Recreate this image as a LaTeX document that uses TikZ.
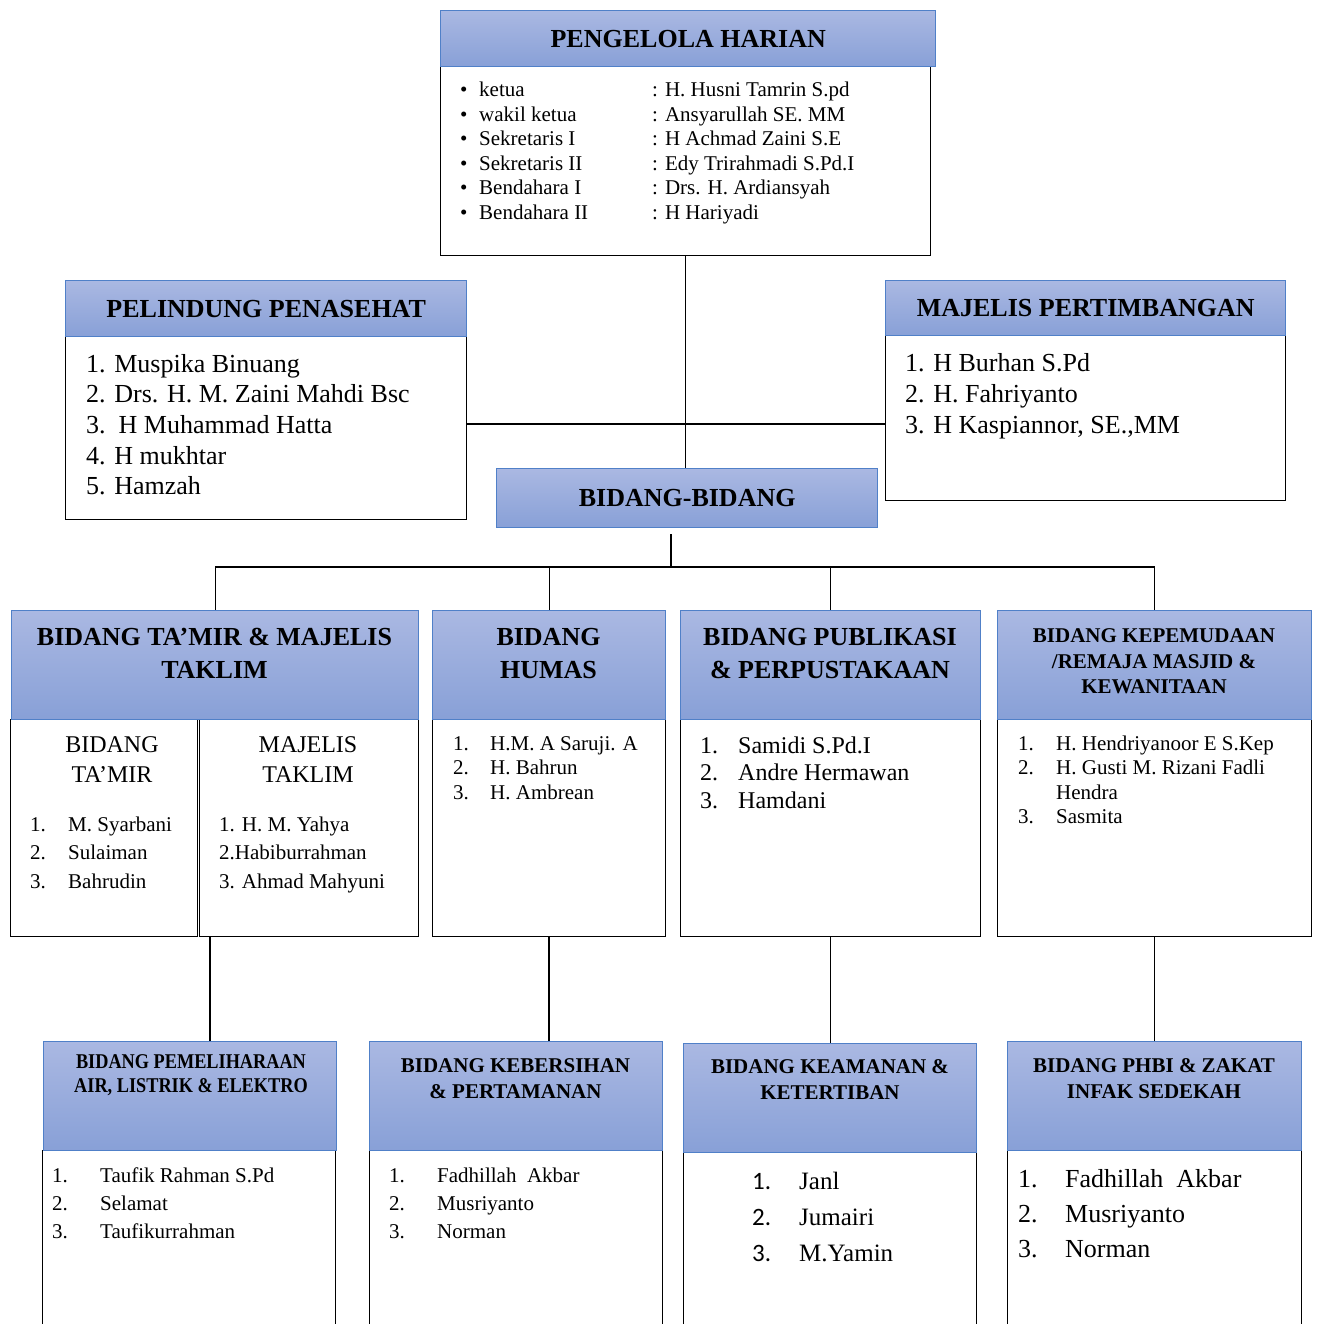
\documentclass[tikz,border=0pt]{standalone}
\usepackage{fontspec}
\setmainfont{Liberation Serif}
\newfontfamily\calibrifont{Carlito}
\definecolor{HeadTop}{RGB}{170, 184, 226}
\definecolor{HeadBottom}{RGB}{136, 160, 215}
\definecolor{HeadLine}{RGB}{80, 128, 200}
\tikzset{
  kepala/.style={draw=HeadLine, line width=1.4pt, top color=HeadTop, bottom color=HeadBottom,
    inner sep=0pt, anchor=north west, font=\fontsize{26}{33}\selectfont\bfseries},
  isi/.style={draw=black, line width=1.2pt, fill=white, inner sep=0pt, anchor=north west},
  judul/.style={inner sep=0pt, align=center, font=\fontsize{26}{33}\selectfont\bfseries},
  garis/.style={line width=1.3pt},
  t21/.style={inner sep=0pt, anchor=base west, font=\fontsize{21}{24}\selectfont},
  t24/.style={inner sep=0pt, anchor=base west, font=\fontsize{24}{30}\selectfont},
  t26/.style={inner sep=0pt, anchor=base west, font=\fontsize{26}{31}\selectfont}
}
\begin{document}
\begin{tikzpicture}[x=1pt, y=-1pt]
    \useasboundingbox (0,0) rectangle (1316,1324);
    \clip (0,0) rectangle (1316,1324);

    % Pengelola harian
    \node[isi, minimum width=490, minimum height=189] (ph-isi) at (440,66) {};
    \node[kepala, minimum width=495, minimum height=56] (ph-k) at (440,10) {PENGELOLA HARIAN};
    \foreach \jab/\nama [count=\i from 0] in {ketua/H. Husni Tamrin S.pd, wakil ketua/Ansyarullah SE. MM,
        Sekretaris I/H Achmad Zaini S.E, Sekretaris II/Edy Trirahmadi S.Pd.I,
        Bendahara I/Drs. H. Ardiansyah, Bendahara II/H Hariyadi} {
      \node[t21] (ph-b\i) at (460, {97+24.5*\i}) {\textbullet};
      \node[t21] (ph-j\i) at (479, {97+24.5*\i}) {\jab};
      \node[t21] (ph-n\i) at (652, {97+24.5*\i}) {: \nama};
    }

    % Pelindung penasehat
    \node[isi, minimum width=401, minimum height=183] (pp-isi) at (65,336) {};
    \node[kepala, minimum width=401, minimum height=56] (pp-k) at (65,280) {PELINDUNG PENASEHAT};
    \foreach \t [count=\i from 0] in {1. Muspika Binuang, 2. Drs. H. M. Zaini Mahdi Bsc,
        3.\ \ H Muhammad Hatta, 4. H mukhtar, 5. Hamzah}
      \node[t26] (pp-\i) at (86, {372+30.7*\i}) {\t};

    % Majelis pertimbangan
    \node[isi, minimum width=400, minimum height=165] (mp-isi) at (885,335) {};
    \node[kepala, minimum width=400, minimum height=55] (mp-k) at (885,280) {MAJELIS PERTIMBANGAN};
    \foreach \t [count=\i from 0] in {1. H Burhan S.Pd, 2. H. Fahriyanto, {3. H Kaspiannor, SE.,MM}}
      \node[t26] (mp-\i) at (905, {371+31*\i}) {\t};

    % Bidang-bidang
    \node[kepala, minimum width=381, minimum height=59] (bb) at (496,468) {BIDANG-BIDANG};

    % Bidang ta'mir & majelis taklim
    \node[isi, minimum width=187, minimum height=217] (tamir-isi) at (10,719) {};
    \node[isi, minimum width=219, minimum height=217] (taklim-isi) at (199,719) {};
    \node[kepala, minimum width=407, minimum height=109] (tamir-k) at (11,610) {};
    \node[judul] (tamir-j) at (214.5,653.5) {BIDANG TA'MIR \& MAJELIS\\TAKLIM};
    \node[inner sep=0pt, align=center, font=\fontsize{24}{30}\selectfont] (tamir-sub) at (112,760) {BIDANG\\TA'MIR};
    \node[inner sep=0pt, align=center, font=\fontsize{24}{30}\selectfont] (taklim-sub) at (308,760) {MAJELIS\\TAKLIM};
    \foreach \n/\t [count=\i from 0] in {1./M. Syarbani, 2./Sulaiman, 3./Bahrudin} {
      \node[t21] (tamir-n\i) at (30, {831+28.5*\i}) {\n};
      \node[t21] (tamir-t\i) at (68, {831+28.5*\i}) {\t};
    }
    \foreach \t [count=\i from 0] in {1. H. M. Yahya, 2.Habiburrahman, 3. Ahmad Mahyuni}
      \node[t21] (taklim-t\i) at (219, {831+28.5*\i}) {\t};

    % Bidang humas
    \node[isi, minimum width=233, minimum height=217] (humas-isi) at (432,719) {};
    \node[kepala, minimum width=233, minimum height=109] (humas-k) at (432,610) {};
    \node[judul] (humas-j) at (548.5,653.5) {BIDANG\\HUMAS};
    \foreach \n/\t [count=\i from 0] in {1./H.M. A Saruji. A, 2./H. Bahrun, 3./H. Ambrean} {
      \node[t21] (humas-n\i) at (453, {750+24.5*\i}) {\n};
      \node[t21] (humas-t\i) at (490, {750+24.5*\i}) {\t};
    }

    % Bidang publikasi
    \node[isi, minimum width=300, minimum height=217] (pub-isi) at (680,719) {};
    \node[kepala, minimum width=300, minimum height=109] (pub-k) at (680,610) {};
    \node[judul] (pub-j) at (830,653.5) {BIDANG PUBLIKASI\\\& PERPUSTAKAAN};
    \foreach \n/\t [count=\i from 0] in {1./Samidi S.Pd.I, 2./Andre Hermawan, 3./Hamdani} {
      \node[t24] (pub-n\i) at (700, {753+27.5*\i}) {\n};
      \node[t24] (pub-t\i) at (738, {753+27.5*\i}) {\t};
    }

    % Bidang kepemudaan
    \node[isi, minimum width=314, minimum height=217] (pk-isi) at (997,719) {};
    \node[kepala, minimum width=314, minimum height=109] (pk-k) at (997,610) {};
    \node[judul, font=\fontsize{21}{25.5}\selectfont\bfseries] (pk-j) at (1154,661.5)
      {BIDANG KEPEMUDAAN\\/REMAJA MASJID \&\\KEWANITAAN};
    \foreach \n/\t [count=\i from 0] in {1./H. Hendriyanoor E S.Kep, 2./H. Gusti M. Rizani Fadli, /Hendra, 3./Sasmita} {
      \node[t21] (pk-n\i) at (1018, {750+24.5*\i}) {\n};
      \node[t21] (pk-t\i) at (1056, {750+24.5*\i}) {\t};
    }

    % Bidang pemeliharaan
    \node[isi, minimum width=293, minimum height=200] (pelihara-isi) at (42,1150) {};
    \node[kepala, minimum width=293, minimum height=109] (pelihara-k) at (43,1041) {};
    \node[judul, font=\fontsize{21}{24}\selectfont\bfseries\addfontfeature{FakeStretch=0.87}] (pelihara-j)
      at (191,1075) {BIDANG PEMELIHARAAN\\AIR, LISTRIK \& ELEKTRO};
    \foreach \n/\t [count=\i from 0] in {1./Taufik Rahman S.Pd, 2./Selamat, 3./Taufikurrahman} {
      \node[t21] (pelihara-n\i) at (52, {1182+28*\i}) {\n};
      \node[t21] (pelihara-t\i) at (100, {1182+28*\i}) {\t};
    }

    % Bidang kebersihan
    \node[isi, minimum width=293, minimum height=200] (bersih-isi) at (369,1150) {};
    \node[kepala, minimum width=293, minimum height=109] (bersih-k) at (369,1041) {};
    \node[judul, font=\fontsize{21}{26}\selectfont\bfseries] (bersih-j) at (515.5,1079)
      {BIDANG KEBERSIHAN\\\& PERTAMANAN};
    \foreach \n/\t [count=\i from 0] in {1./Fadhillah\ \ Akbar, 2./Musriyanto, 3./Norman} {
      \node[t21] (bersih-n\i) at (389, {1182+28*\i}) {\n};
      \node[t21] (bersih-t\i) at (437, {1182+28*\i}) {\t};
    }

    % Bidang keamanan
    \node[isi, minimum width=293, minimum height=200] (aman-isi) at (683,1152) {};
    \node[kepala, minimum width=293, minimum height=109] (aman-k) at (683,1043) {};
    \node[judul, font=\fontsize{21}{26}\selectfont\bfseries] (aman-j) at (830,1080)
      {BIDANG KEAMANAN \&\\KETERTIBAN};
    \foreach \n/\t [count=\i from 0] in {1./Janl, 2./Jumairi, 3./M.Yamin} {
      \node[t24, font=\fontsize{25}{30}\selectfont\calibrifont] (aman-n\i) at (752, {1189+36*\i}) {\n};
      \node[t24, font=\fontsize{25}{30}\selectfont] (aman-t\i) at (799, {1189+36*\i}) {\t};
    }

    % Bidang PHBI
    \node[isi, minimum width=294, minimum height=200] (phbi-isi) at (1007,1150) {};
    \node[kepala, minimum width=294, minimum height=109] (phbi-k) at (1007,1041) {};
    \node[judul, font=\fontsize{21}{26}\selectfont\bfseries] (phbi-j) at (1154,1079)
      {BIDANG PHBI \& ZAKAT\\INFAK SEDEKAH};
    \foreach \n/\t [count=\i from 0] in {1./Fadhillah\ \ Akbar, 2./Musriyanto, 3./Norman} {
      \node[t26] (phbi-n\i) at (1018, {1187+35*\i}) {\n};
      \node[t26] (phbi-t\i) at (1065, {1187+35*\i}) {\t};
    }

    % Garis penghubung
    \coordinate (temu) at (685,424);
    \coordinate (cabang) at (671,567);
    \draw[garis] (ph-isi.south) -- (ph-isi.south |- bb.north);
    \draw[garis] (pp-isi.east |- temu) -- (mp-isi.west |- temu);
    \draw[garis] ([yshift=-6pt]bb.south -| cabang) -- (cabang);
    \draw[garis] (tamir-k.north |- cabang) -- (pk-k.north |- cabang);
    \foreach \k in {tamir-k, humas-k, pub-k, pk-k}
      \draw[garis] (\k.north |- cabang) -- (\k.north);
    \draw[garis] ([xshift=11pt]taklim-isi.south west) -- ([xshift=11pt]taklim-isi.south west |- pelihara-k.north);
    \draw[garis] (humas-isi.south) -- (humas-isi.south |- bersih-k.north);
    \draw[garis] (pub-isi.south) -- (pub-isi.south |- aman-k.north);
    \draw[garis] (pk-isi.south) -- (pk-isi.south |- phbi-k.north);
\end{tikzpicture}
\end{document}
